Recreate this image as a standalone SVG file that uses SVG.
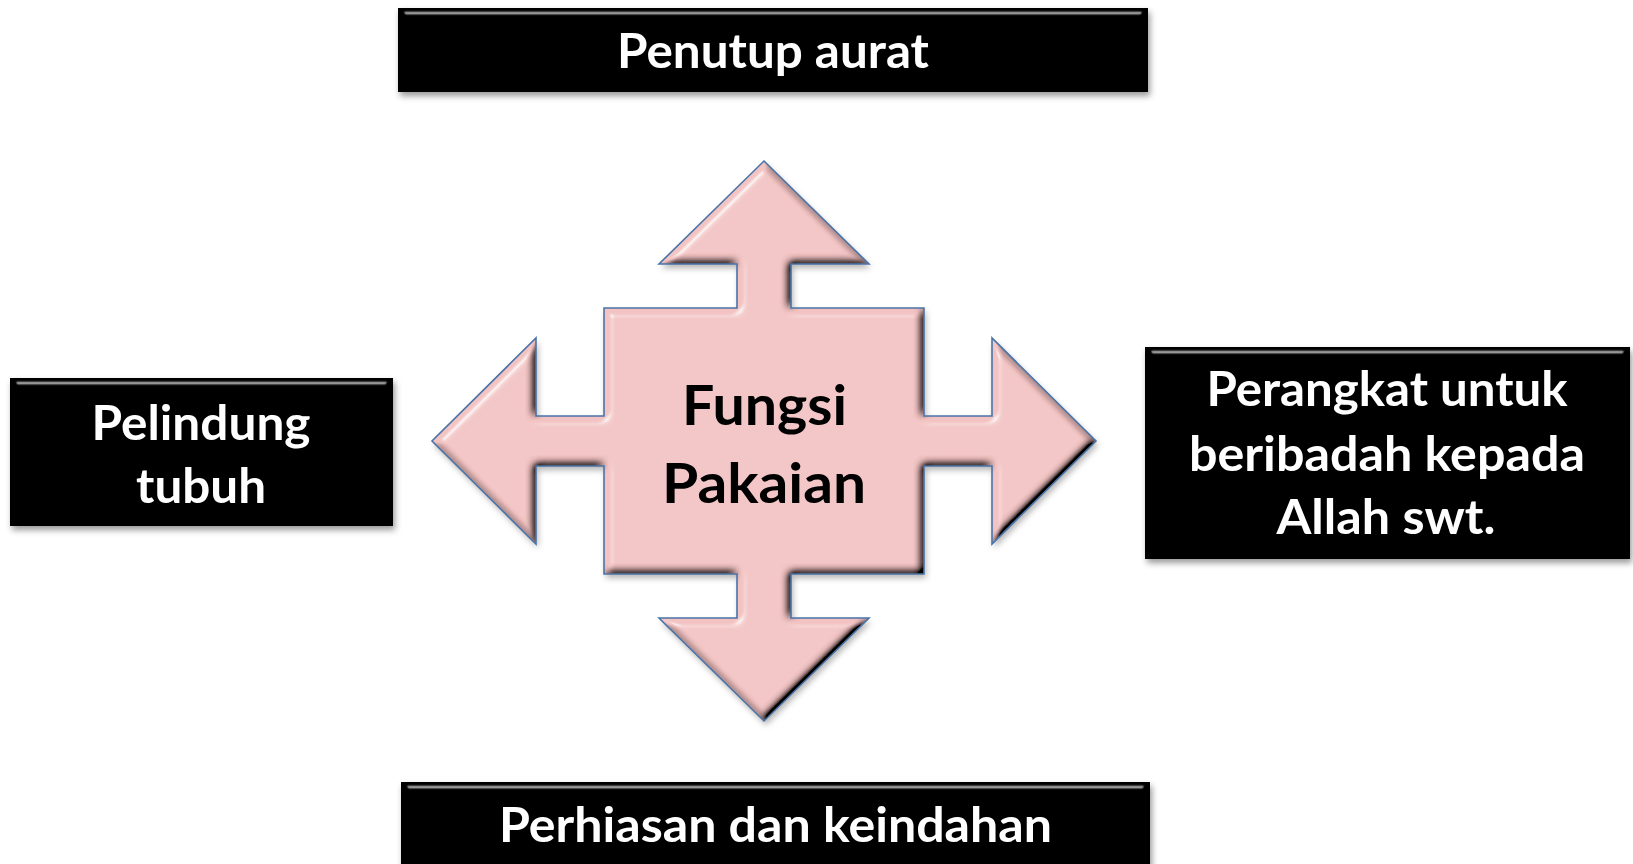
<svg xmlns="http://www.w3.org/2000/svg" width="1633" height="864" viewBox="0 0 1633 864">
  <style>
    .box { fill: #000; filter: url(#boxfx); }
    .lbl { font-family: Lato, "Open Sans", "Liberation Sans", sans-serif; font-weight: bold; font-size: 48px; fill: #fff; text-anchor: middle; }
    .ctr { font-family: Lato, "Open Sans", "Liberation Sans", sans-serif; font-weight: bold; font-size: 55px; fill: #000; text-anchor: middle; }
    .arrowfill { fill: #F3C3C3; filter: url(#bevel); }
    .arrowline { fill: none; stroke: #4A74A8; stroke-width: 1.6; stroke-linejoin: miter; }
  </style>
  <defs>
    <filter id="boxfx" x="-5%" y="-15%" width="112%" height="140%">
      <feGaussianBlur in="SourceAlpha" stdDeviation="3.5" result="b"/>
      <feSpecularLighting in="b" surfaceScale="6" specularConstant="0.9" specularExponent="80" lighting-color="#a8a8a8" result="s">
        <feDistantLight azimuth="270" elevation="35"/>
      </feSpecularLighting>
      <feComposite in="s" in2="SourceAlpha" operator="in" result="si"/>
      <feOffset in="SourceAlpha" dx="2" dy="4" result="o"/>
      <feGaussianBlur in="o" stdDeviation="3" result="ob"/>
      <feFlood flood-color="#000" flood-opacity="0.4"/>
      <feComposite in2="ob" operator="in" result="sh"/>
      <feMerge>
        <feMergeNode in="sh"/>
        <feMergeNode in="SourceGraphic"/>
        <feMergeNode in="si"/>
      </feMerge>
    </filter>
    <filter id="bevel" x="-5%" y="-5%" width="112%" height="112%">
      <feGaussianBlur in="SourceAlpha" stdDeviation="4" result="b"/>
      <feDiffuseLighting in="b" surfaceScale="9" diffuseConstant="1.25" lighting-color="#fff" result="d">
        <feDistantLight azimuth="225" elevation="53"/>
      </feDiffuseLighting>
      <feComposite in="SourceGraphic" in2="d" operator="arithmetic" k1="1" k2="0" k3="0" k4="0" result="lit"/>
      <feSpecularLighting in="b" surfaceScale="9" specularConstant="0.7" specularExponent="30" lighting-color="#fff" result="s">
        <feDistantLight azimuth="225" elevation="45"/>
      </feSpecularLighting>
      <feComposite in="s" in2="SourceAlpha" operator="in" result="si"/>
      <feOffset in="SourceAlpha" dx="2" dy="4" result="o"/>
      <feGaussianBlur in="o" stdDeviation="3" result="ob"/>
      <feFlood flood-color="#000" flood-opacity="0.3"/>
      <feComposite in2="ob" operator="in" result="sh"/>
      <feMerge>
        <feMergeNode in="sh"/>
        <feMergeNode in="lit"/>
        <feMergeNode in="si"/>
      </feMerge>
    </filter>
    <path id="quad" d="M764,161 L869,264 L791,264 L791,308 L924,308 L924,416 L992,416 L992,338 L1096,441 L992,544 L992,466 L924,466 L924,574 L791,574 L791,618 L869,618 L764,721 L659,618 L737,618 L737,574 L604,574 L604,466 L536,466 L536,544 L432,441 L536,338 L536,416 L604,416 L604,308 L737,308 L737,264 L659,264 Z"/>
  </defs>
  <rect width="1633" height="864" fill="#fff"/>

  <g id="connectors">
    <use href="#quad" class="arrowfill"/>
    <use href="#quad" class="arrowline"/>
  </g>

  <g id="center">
    <text class="ctr" x="764.5" y="425" textLength="165" lengthAdjust="spacingAndGlyphs">Fungsi</text>
    <text class="ctr" x="764" y="503" textLength="204" lengthAdjust="spacingAndGlyphs">Pakaian</text>
  </g>

  <g id="top">
    <rect class="box" x="398" y="8" width="750" height="84"/>
    <text class="lbl" x="773" y="68" textLength="312" lengthAdjust="spacingAndGlyphs">Penutup aurat</text>
  </g>

  <g id="left">
    <rect class="box" x="10" y="378" width="383" height="148"/>
    <text class="lbl" x="201" y="439.5" textLength="219" lengthAdjust="spacingAndGlyphs">Pelindung</text>
    <text class="lbl" x="201" y="503" textLength="130" lengthAdjust="spacingAndGlyphs">tubuh</text>
  </g>

  <g id="right">
    <rect class="box" x="1145" y="347" width="485" height="212"/>
    <text class="lbl" x="1387" y="406" textLength="361" lengthAdjust="spacingAndGlyphs">Perangkat untuk</text>
    <text class="lbl" x="1387" y="471" textLength="396" lengthAdjust="spacingAndGlyphs">beribadah kepada</text>
    <text class="lbl" x="1386" y="534" textLength="219" lengthAdjust="spacingAndGlyphs">Allah swt.</text>
  </g>

  <g id="bottom">
    <rect class="box" x="401" y="782" width="749" height="95"/>
    <text class="lbl" x="775.5" y="841.5" textLength="553" lengthAdjust="spacingAndGlyphs">Perhiasan dan keindahan</text>
  </g>
</svg>
